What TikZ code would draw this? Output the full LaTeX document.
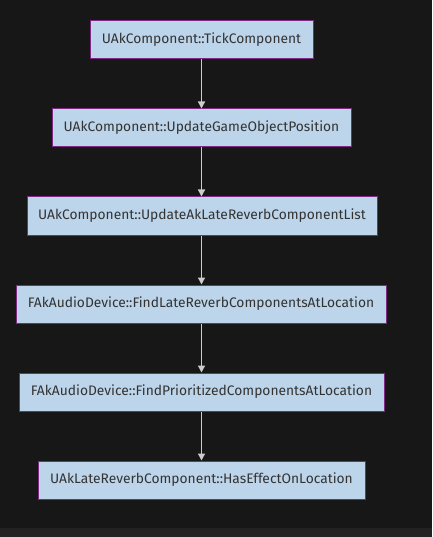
\documentclass[tikz,border=0pt]{standalone}
\usepackage{fontspec}
\setmainfont{Fira Sans}
\usetikzlibrary{arrows.meta}
\definecolor{bg}{HTML}{171717}
\definecolor{strip}{HTML}{222222}
\definecolor{boxfill}{HTML}{BDD5EA}
\definecolor{boxline}{HTML}{7E2A84}
\definecolor{txt}{HTML}{333333}
\definecolor{arr}{HTML}{CCCCCC}
\begin{document}
\begin{tikzpicture}[x=1pt,y=-1pt,
  fn/.style={draw=boxline, line width=1pt, fill=boxfill, text=txt, inner sep=0pt,
    font=\fontsize{13.8}{16}\selectfont, minimum height=38pt, anchor=center},
  conn/.style={draw=arr, line width=1.4pt, -{Triangle[length=7pt,width=7pt]}}]
\fill[bg] (0,0) rectangle (432,528);
\fill[strip] (0,528) rectangle (432,537);
\useasboundingbox (0,0) rectangle (432,537);
\node[fn, minimum width=223pt] (n1) at (201.5,40) {UAkComponent::TickComponent};
\node[fn, minimum width=299pt] (n2) at (201.5,128) {UAkComponent::UpdateGameObjectPosition};
\node[fn, minimum width=350pt] (n3) at (202,216) {UAkComponent::UpdateAkLateReverbComponentList};
\node[fn, minimum width=370pt] (n4) at (201,304) {FAkAudioDevice::FindLateReverbComponentsAtLocation};
\node[fn, minimum width=365pt] (n5) at (201.5,392) {FAkAudioDevice::FindPrioritizedComponentsAtLocation};
\node[fn, minimum width=327pt] (n6) at (201.5,480) {UAkLateReverbComponent::HasEffectOnLocation};
\draw[conn] (n1.south) -- (n1.south |- n2.north);
\draw[conn] (n1.south |- n2.south) -- (n1.south |- n3.north);
\draw[conn] (n1.south |- n3.south) -- (n1.south |- n4.north);
\draw[conn] (n1.south |- n4.south) -- (n1.south |- n5.north);
\draw[conn] (n1.south |- n5.south) -- (n1.south |- n6.north);
\end{tikzpicture}
\end{document}
